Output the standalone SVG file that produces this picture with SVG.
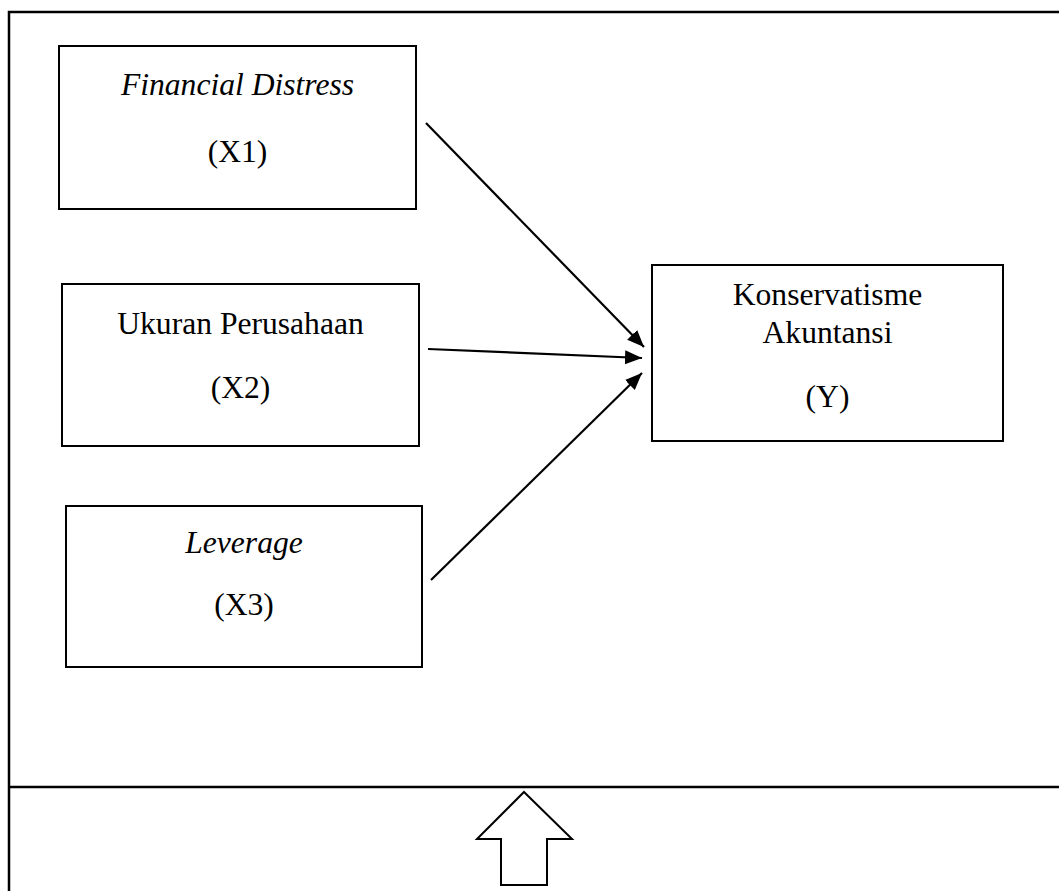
<svg xmlns="http://www.w3.org/2000/svg" width="1059" height="891" viewBox="0 0 1059 891">
<style>
.box{fill:#fff;stroke:#000;stroke-width:2}
.t{font-family:"Liberation Serif","Times New Roman",serif;font-size:31.6px;fill:#000;text-anchor:middle}
.i{font-style:italic}
.frame{stroke:#000;stroke-width:2.5;fill:none}
.conn{stroke:#000;stroke-width:2.2;fill:none;marker-end:url(#ah)}
</style>
<defs>
<marker id="ah" markerUnits="userSpaceOnUse" markerWidth="18" markerHeight="16" refX="17" refY="7" orient="auto">
<path d="M0,0 L17,7 L0,14 z" fill="#000"/>
</marker>
</defs>
<rect width="1059" height="891" fill="#fff"/>
<g id="frame">
<path class="frame" d="M9,891 V12 H1059 M9,787 H1059"/>
</g>
<g id="x1">
<rect class="box" x="59" y="46" width="357" height="163"/>
<text class="t i" x="237.5" y="95">Financial Distress</text>
<text class="t" x="237.5" y="162">(X1)</text>
</g>
<g id="x2">
<rect class="box" x="62" y="284" width="357" height="162"/>
<text class="t" x="240.5" y="334">Ukuran Perusahaan</text>
<text class="t" x="240.5" y="398">(X2)</text>
</g>
<g id="x3">
<rect class="box" x="66" y="506" width="356" height="161"/>
<text class="t i" x="244" y="553">Leverage</text>
<text class="t" x="244" y="615">(X3)</text>
</g>
<g id="y">
<rect class="box" x="652" y="265" width="351" height="176"/>
<text class="t" x="827.5" y="305">Konservatisme</text>
<text class="t" x="827.5" y="343">Akuntansi</text>
<text class="t" x="827.5" y="407">(Y)</text>
</g>
<g id="connectors">
<line class="conn" x1="426" y1="123" x2="644" y2="347"/>
<line class="conn" x1="428" y1="349" x2="642" y2="358"/>
<line class="conn" x1="431" y1="580" x2="642" y2="373"/>
</g>
<g id="up-arrow">
<polygon points="524,792 572,839 547,839 547,885 501,885 501,839 477,839" fill="#fff" stroke="#000" stroke-width="2"/>
</g>
</svg>
